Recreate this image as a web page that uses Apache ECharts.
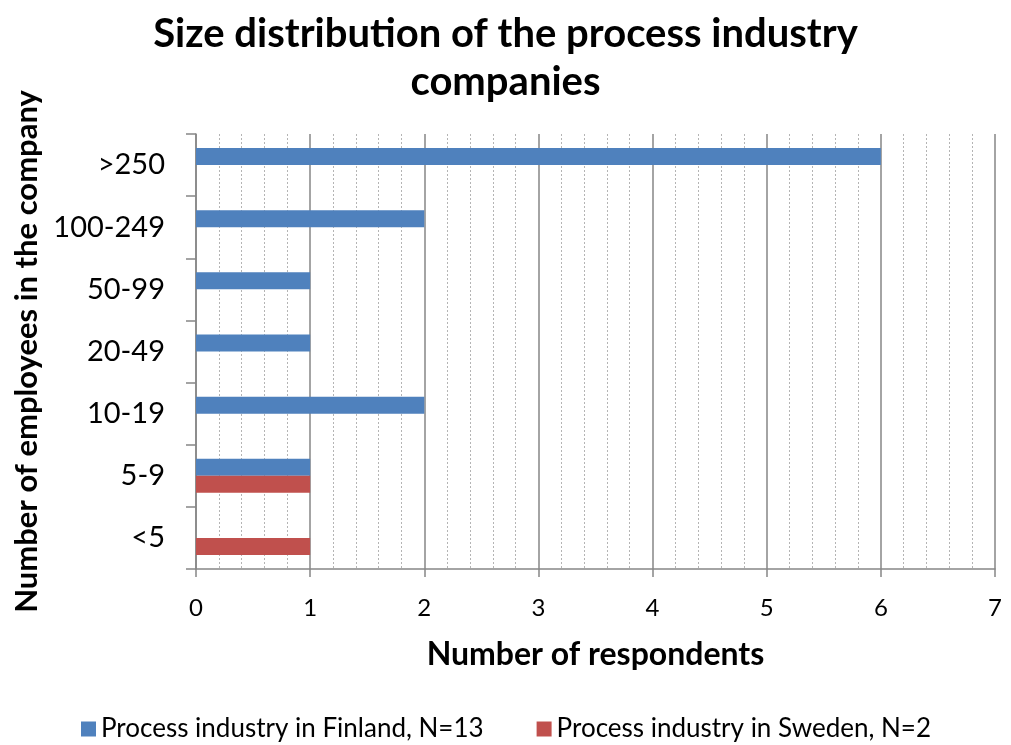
<!DOCTYPE html>
<html>
<head>
<meta charset="utf-8">
<script src="https://cdn.jsdelivr.net/npm/echarts@6/dist/echarts.min.js"></script>
<style>html,body{margin:0;padding:0;background:#fff;}#c{width:1011px;height:745px;}</style>
</head>
<body>
<div id="c"></div>
<script>
const categories = ['<5', '5-9', '10-19', '20-49', '50-99', '100-249', '>250'];
const finland = [0, 1, 2, 1, 1, 2, 6];
const sweden = [1, 1, 0, 0, 0, 0, 0];
const seriesNames = ['Process industry in Finland, N=13', 'Process industry in Sweden, N=2'];
const xTicks = [0, 1, 2, 3, 4, 5, 6, 7];

const FONT = 'Lato';
const chart = echarts.init(document.getElementById('c'), null, {renderer: 'canvas'});
chart.setOption({
  animation: false,
  backgroundColor: '#fff',
  title: {
    text: 'Size distribution of the process industry\ncompanies',
    left: 'center',
    top: 5,
    textStyle: {fontFamily: FONT, fontWeight: 'bold', fontSize: 40, color: '#000', lineHeight: 48}
  },
  legend: {
    left: 76,
    top: 711,
    itemWidth: 15,
    itemHeight: 15,
    itemGap: 53,
    icon: 'rect',
    textStyle: {fontFamily: FONT, fontSize: 26, color: '#000'},
    data: seriesNames
  },
  grid: {left: 196, right: 16, top: 134, bottom: 176, containLabel: false},
  xAxis: {
    type: 'value',
    min: xTicks[0],
    max: xTicks[xTicks.length - 1],
    interval: 1,
    name: 'Number of respondents',
    nameLocation: 'middle',
    nameGap: 86,
    nameTextStyle: {fontFamily: FONT, fontWeight: 'bold', fontSize: 32, color: '#000', verticalAlign: 'middle'},
    axisLine: {show: true, lineStyle: {color: '#868686', width: 1.5}},
    axisTick: {show: true, length: 8, lineStyle: {color: '#868686', width: 1.5}},
    axisLabel: {fontFamily: FONT, fontSize: 24, color: '#000', margin: 27},
    splitLine: {show: true, lineStyle: {color: '#868686', width: 1.5}},
    minorTick: {show: false, splitNumber: 5},
    minorSplitLine: {show: true, lineStyle: {color: '#b4b4b4', width: 1, type: [2, 2]}}
  },
  yAxis: {
    type: 'category',
    data: categories,
    name: 'Number of employees in the company',
    nameLocation: 'middle',
    nameGap: 168,
    nameRotate: 90,
    nameTextStyle: {fontFamily: FONT, fontWeight: 'bold', fontSize: 31, color: '#000', verticalAlign: 'middle'},
    axisLine: {show: true, lineStyle: {color: '#868686', width: 1.5}},
    axisTick: {show: true, length: 10, lineStyle: {color: '#868686', width: 1.5}},
    axisLabel: {fontFamily: FONT, fontSize: 29, color: '#000', margin: 31},
    splitLine: {show: false}
  },
  series: [
    {
      name: seriesNames[0],
      type: 'bar',
      data: finland,
      barWidth: 17,
      barGap: '0%',
      itemStyle: {color: '#4F81BD'}
    },
    {
      name: seriesNames[1],
      type: 'bar',
      data: sweden,
      barWidth: 17,
      barGap: '0%',
      itemStyle: {color: '#C0504D'}
    }
  ]
});
</script>
</body>
</html>
